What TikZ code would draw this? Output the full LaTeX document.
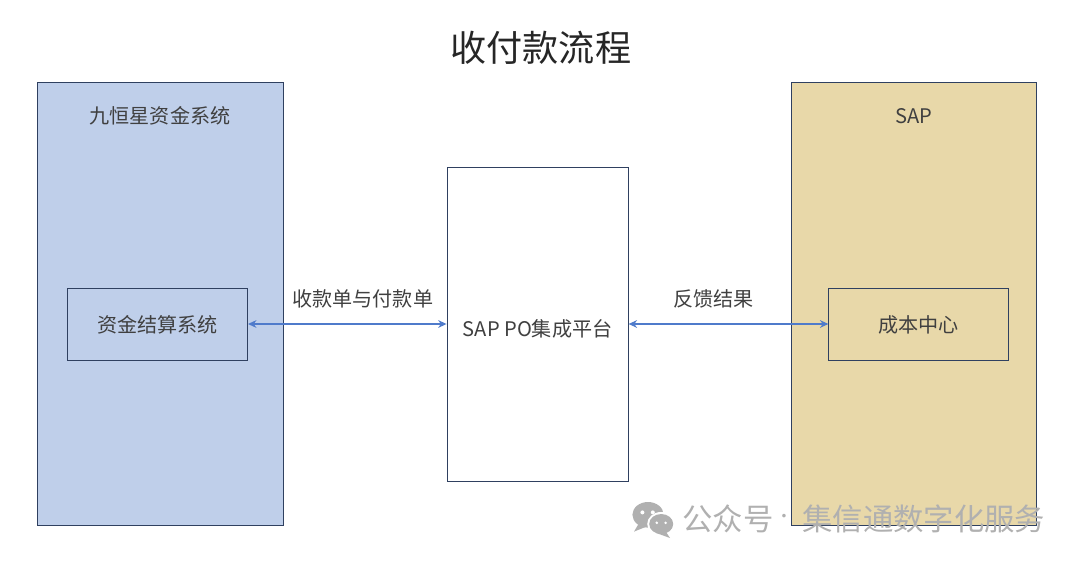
\documentclass[tikz,border=0pt]{standalone}
\usepackage{fontspec}
\setmainfont{Noto Sans CJK SC}
\usetikzlibrary{arrows.meta}

\definecolor{edgenavy}{HTML}{2F4060}
\definecolor{linkblue}{HTML}{4F7BCB}
\definecolor{panelblue}{HTML}{BFCFEA}
\definecolor{paneltan}{HTML}{E8D8A9}
\definecolor{markgray}{HTML}{B0B0B0}

\tikzset{
  panel/.style={draw=edgenavy, line width=0.6pt, inner sep=0pt},
  boxtext/.style={font=\fontsize{14.3pt}{16pt}\selectfont, text=black!75, inner sep=0pt},
  link/.style={{Stealth[length=6pt,width=5.5pt]}-{Stealth[length=6pt,width=5.5pt]}, linkblue, line width=0.9pt},
  marktext/.style={font=\fontsize{21.6pt}{24pt}\selectfont, text=markgray, inner sep=0pt}
}

\begin{document}
\begin{tikzpicture}
  \useasboundingbox (0,0) rectangle (27,14.05);

  \node[font=\fontsize{25.7pt}{30pt}\selectfont, text=black!85, inner sep=0pt] (title) at (13.52,12.86) {收付款流程};

  % outer systems
  \node[panel, fill=panelblue, minimum width=6.16cm, minimum height=11.075cm] (treasury) at (4.01,6.4625) {};
  \node[panel, fill=paneltan, minimum width=6.125cm, minimum height=11.075cm] (sap) at (22.86,6.4625) {};
  \node[panel, fill=white, minimum width=4.53cm, minimum height=7.85cm] (platform) at (13.44,5.95) {};

  \node[boxtext] (treasurytext) at (4.0,11.15) {九恒星资金系统};
  \node[boxtext] (saptext) at (22.85,11.15) {SAP};
  \node[boxtext] (platformtext) at (13.44,5.82) {SAP PO集成平台};

  % inner boxes
  \node[panel, minimum width=4.5cm, minimum height=1.8cm] (settle) at (3.94,5.95) {};
  \node[panel, minimum width=4.5cm, minimum height=1.8cm] (cost) at (22.97,5.95) {};
  \node[boxtext] (settletext) at (3.94,5.93) {资金结算系统};
  \node[boxtext] (costtext) at (22.97,5.93) {成本中心};

  \draw[link] (settle) -- (platform);
  \draw[link] (platform) -- (cost);
  \node[boxtext] (paylabel) at (9.07,6.58) {收款单与付款单};
  \node[boxtext] (backlabel) at (17.83,6.58) {反馈结果};

  % watermark
  \fill[markgray] (16.2,1.18) ellipse (0.39 and 0.32);
  \fill[markgray] (15.98,0.98) -- (15.85,0.76) -- (16.2,0.9) -- cycle;
  \fill[white] (16.53,0.95) ellipse (0.35 and 0.3);
  \fill[markgray] (16.53,0.95) ellipse (0.3 and 0.25);
  \fill[markgray] (16.65,0.75) -- (16.75,0.6) -- (16.42,0.72) -- cycle;
  \fill[white] (16.06,1.24) circle (0.05) (16.32,1.24) circle (0.05);
  \fill[white] (16.42,0.98) circle (0.035) (16.64,0.98) circle (0.035);
  \node[marktext, anchor=west] (wechat) at (17.05,1.08) {公众号};
  \node[marktext, font=\fontsize{12pt}{14pt}\selectfont] (dot) at (19.6,1.08) {·};
  \node[marktext, anchor=west] (account) at (20.05,1.08) {集信通数字化服务};
\end{tikzpicture}
\end{document}
